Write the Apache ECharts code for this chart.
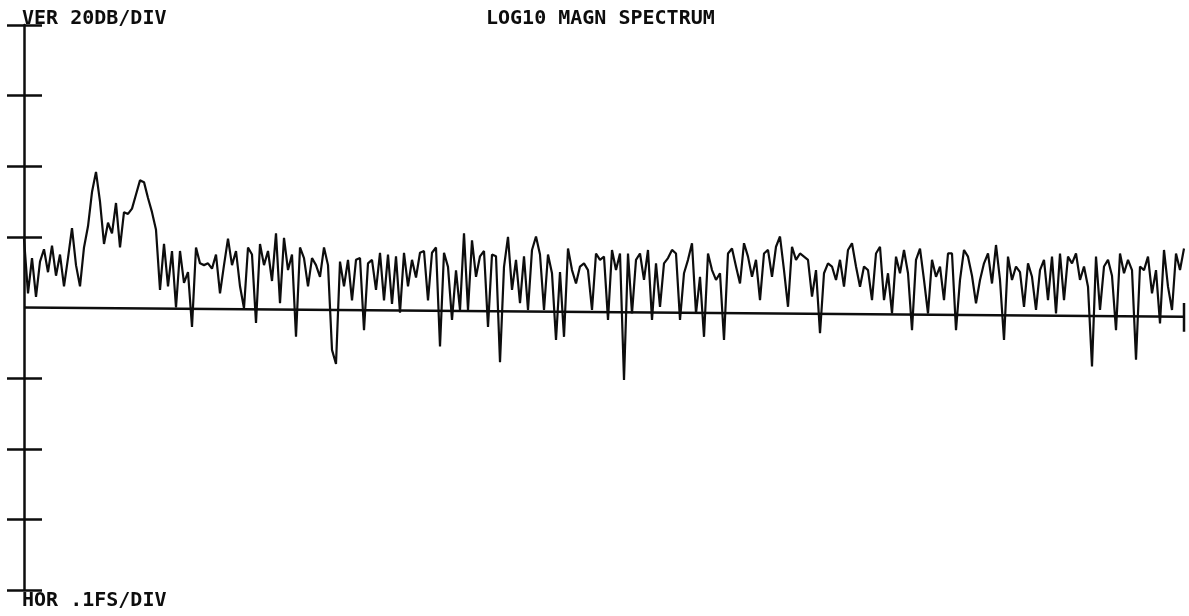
<!DOCTYPE html>
<html>
<head>
<meta charset="utf-8">
<title>LOG10 MAGN SPECTRUM</title>
<script src="https://cdn.jsdelivr.net/npm/echarts@6/dist/echarts.min.js"></script>
<style>
  html, body { margin: 0; padding: 0; background: #fff; }
  #spectrum { width: 1189px; height: 616px; }
</style>
</head>
<body>
<div id="spectrum"></div>
<script>
// vertical scale: 20 dB per division, 4 divisions each side of zero
const yTicks = [-80, -60, -40, -20, 20, 40, 60, 80]

// log magnitude (dB), equally spaced bins across the span
const magnDb = [
  19.5, 4.0, 14, 3.0, 13, 16.5, 10, 17.5, 9, 15,
  6, 14, 22.5, 12, 6, 17, 23, 32.7, 38.4, 30,
  18, 24, 21, 29.6, 17, 27, 26.5, 28, 32, 36,
  35.5, 31, 27, 22, 5, 18, 6, 16, 0, 16,
  7, 10, -5.5, 17, 12.5, 12, 12.5, 11, 15, 4,
  12, 19.5, 12, 16, 6, -0.2, 17, 15, -4.4, 18,
  12, 16, 7.5, 21, 1.2, 19.7, 10.6, 15, -8.3, 17,
  14, 6, 14, 12, 8.7, 17, 12, -12, -16, 13,
  6, 13.5, 2, 13.5, 14, -6.4, 12.5, 13.5, 5, 15.5,
  2, 15, 1, 14.5, -1.5, 15.5, 6, 13.5, 8.5, 15.5,
  16, 2, 15.5, 17, -11, 15.5, 11.5, -3.5, 10.5, -0.7,
  21, -0.7, 19, 8.7, 14.5, 16, -5.5, 15, 14.5, -15.5,
  11.5, 20, 5, 13.5, 1.2, 14.5, -0.7, 16.3, 20.1, 15,
  -0.7, 15, 9.7, -9.2, 10, -8.3, 16.7, 10.6, 6.8, 11.6,
  12.5, 10.6, -0.7, 15.3, 13.5, 14.4, -3.5, 16.3, 10.6, 15.3,
  -20.5, 15.3, -1.7, 13.5, 15.3, 7.8, 16.3, -3.5, 12.5, 0.2,
  12.5, 14, 16.3, 15.3, -3.5, 9.7, 13.5, 18.2, -1.7, 8.7,
  -8.3, 15.3, 10.6, 7.8, 9.7, -9.2, 15.3, 16.7, 11.6, 6.8,
  18.2, 14.4, 8.7, 13.5, 2.1, 15.3, 16.3, 8.7, 17.2, 20.1,
  10.6, 0.2, 17.2, 13.5, 15.3, 14.4, 13.5, 3.1, 10.6, -7.3,
  9.7, 12.5, 11.6, 7.8, 13.5, 5.9, 16.3, 18.2, 11.6, 5.9,
  11.6, 10.6, 2.1, 15.3, 17.2, 2.1, 9.7, -1.7, 14.4, 9.7,
  16.3, 9.7, -6.4, 13.5, 16.7, 7.8, -1.7, 13.5, 8.7, 11.6,
  2.1, 15.3, 15.3, -6.4, 7.8, 16.3, 14.4, 9, 1.2, 7.8,
  12.5, 15.3, 6.8, 17.7, 7.8, -9.2, 14.4, 7.8, 11.6, 10,
  0.2, 12.5, 8.7, -0.7, 10.6, 13.5, 2.1, 14.4, -1.7, 15.3,
  2.1, 14.4, 12.5, 15.3, 7.8, 11.6, 5.9, -16.7, 14.4, -0.7,
  11.6, 13.5, 9, -6.4, 15.3, 9.7, 13.5, 10.6, -14.8, 11.6,
  10.6, 14.4, 4, 10.6, -4.5, 16.3, 5.9, -0.7, 15.3, 10.6,
  16.7
]

// zero line as plotted (it drifts down a little to the right) and the end mark
const zeroLine = [0, -2.6]
const endMark = [1.3, -6.9]

const initSpectrum = () => {
    const chart = echarts.init(document.getElementById('spectrum'))
    const last = magnDb.length - 1
    const ink = '#0d0d0d'
    const plotText = { color: ink, fontFamily: '"DejaVu Sans Mono", monospace', fontSize: 20, fontWeight: 'bold' }

    const option = {
        animation: false,
        backgroundColor: '#fff',
        title: [
            { text: 'LOG10 MAGN SPECTRUM', left: 486, top: 9, padding: 0, textStyle: plotText },
            { text: 'VER 20DB/DIV', left: 22, top: 9, padding: 0, textStyle: plotText },
            { text: 'HOR .1FS/DIV', left: 22, top: 591, padding: 0, textStyle: plotText }
        ],
        grid: { left: 24, right: 5, top: 25, bottom: 26 },
        xAxis: {
            type: 'value',
            min: 0,
            max: 1,
            show: false
        },
        yAxis: [
            {
                type: 'value',
                min: -80, max: 80, interval: 20,
                axisLine: { show: true, lineStyle: { color: ink, width: 2.5 } },
                axisTick: { show: true, length: 17, customValues: yTicks, lineStyle: { color: ink, width: 2.5 } },
                axisLabel: { show: false },
                splitLine: { show: false }
            },
            {
                type: 'value',
                position: 'left',
                min: -80, max: 80, interval: 20,
                axisLine: { show: false },
                axisTick: { show: true, inside: true, length: 18, customValues: yTicks, lineStyle: { color: ink, width: 2.5 } },
                axisLabel: { show: false },
                splitLine: { show: false }
            }
        ],
        series: [
            {
                name: 'zero',
                type: 'line',
                symbol: 'none',
                lineStyle: { color: ink, width: 2.5 },
                data: [[0, zeroLine[0]], [1, zeroLine[1]]]
            },
            {
                name: 'end',
                type: 'line',
                symbol: 'none',
                lineStyle: { color: ink, width: 2.5 },
                data: [[1, endMark[0]], [1, endMark[1]]]
            },
            {
                name: 'magn',
                type: 'line',
                symbol: 'none',
                lineStyle: { color: ink, width: 2.2 },
                data: magnDb.map((v, i) => [i / last, v])
            }
        ]
    }
    chart.setOption(option)
}

initSpectrum()
</script>
</body>
</html>
